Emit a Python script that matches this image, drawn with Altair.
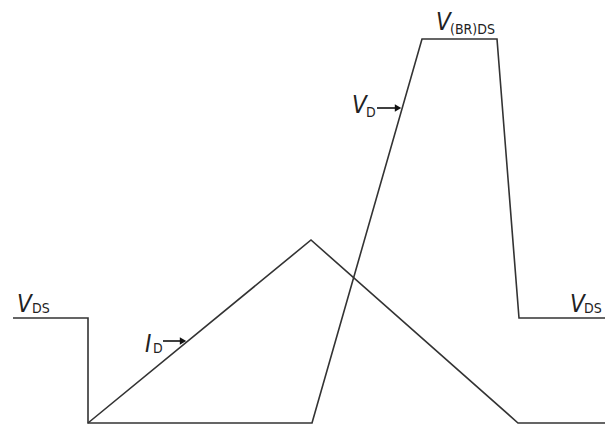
import altair as alt
import pandas as pd

# Waveform data (time units, level units)
vd_t = [5, 80, 80, 304, 414, 489, 511, 597]
vd_v = [106, 106, 1, 1, 385, 385, 106, 106]
id_t = [80, 303, 510, 597]
id_v = [1, 184, 1, 1]

# Label data
main_text = ["V", "I", "V", "V", "V"]
main_t = [9, 137, 344, 428, 562]
main_v = [112, 72, 311, 394, 112]
sub_text = ["DS", "D", "D", "(BR)DS", "DS"]
sub_t = [24, 145, 358, 442, 576]
sub_v = [111, 71, 307, 390, 111]
arrow_t1 = [155, 369]
arrow_t2 = [172, 387]
arrow_v = [83, 316]
arrow_head_t = [175, 390]

rows = []
for i, (t, v) in enumerate(zip(vd_t, vd_v)):
    rows.append({"series": "VD", "i": i, "t": t, "v": v})
for i, (t, v) in enumerate(zip(id_t, id_v)):
    rows.append({"series": "ID", "i": i, "t": t, "v": v})
lines_df = pd.DataFrame(rows)
main_df = pd.DataFrame({"text": main_text, "t": main_t, "v": main_v})
sub_df = pd.DataFrame({"text": sub_text, "t": sub_t, "v": sub_v})
arr_df = pd.DataFrame({"t1": arrow_t1, "t2": arrow_t2, "v": arrow_v, "th": arrow_head_t})

W, H = 597, 416
xs = alt.Scale(domain=[0, W], nice=False, zero=False)
ys = alt.Scale(domain=[0, H], nice=False, zero=False)
FONT = "Liberation Sans Narrow, DejaVu Sans Condensed, Liberation Sans, sans-serif"
COL = "#333333"

lines = alt.Chart(lines_df).mark_line(color=COL, strokeWidth=1.6, clip=False).encode(
    x=alt.X("t:Q", scale=xs, axis=None),
    y=alt.Y("v:Q", scale=ys, axis=None),
    detail="series:N",
    order="i:Q",
)
main = alt.Chart(main_df).mark_text(
    font=FONT, fontSize=24, fontStyle="italic", align="left", baseline="alphabetic", color="#222222"
).encode(x=alt.X("t:Q", scale=xs), y=alt.Y("v:Q", scale=ys), text="text:N")
sub = alt.Chart(sub_df).mark_text(
    font=FONT, fontSize=14, align="left", baseline="alphabetic", color="#222222"
).encode(x=alt.X("t:Q", scale=xs), y=alt.Y("v:Q", scale=ys), text="text:N")
shaft = alt.Chart(arr_df).mark_rule(color="#111111", strokeWidth=1.6).encode(
    x=alt.X("t1:Q", scale=xs), x2="t2:Q", y=alt.Y("v:Q", scale=ys)
)
head = alt.Chart(arr_df).mark_point(
    shape="triangle-right", filled=True, color="#111111", size=55, opacity=1
).encode(x=alt.X("th:Q", scale=xs), y=alt.Y("v:Q", scale=ys))

chart = alt.layer(lines, shaft, head, main, sub).properties(
    width=W, height=H, padding=0, autosize=alt.AutoSizeParams(type="none")
).configure(background="white").configure_view(stroke=None)

chart.save("out.html", embed_options={"renderer": "svg", "actions": False})
